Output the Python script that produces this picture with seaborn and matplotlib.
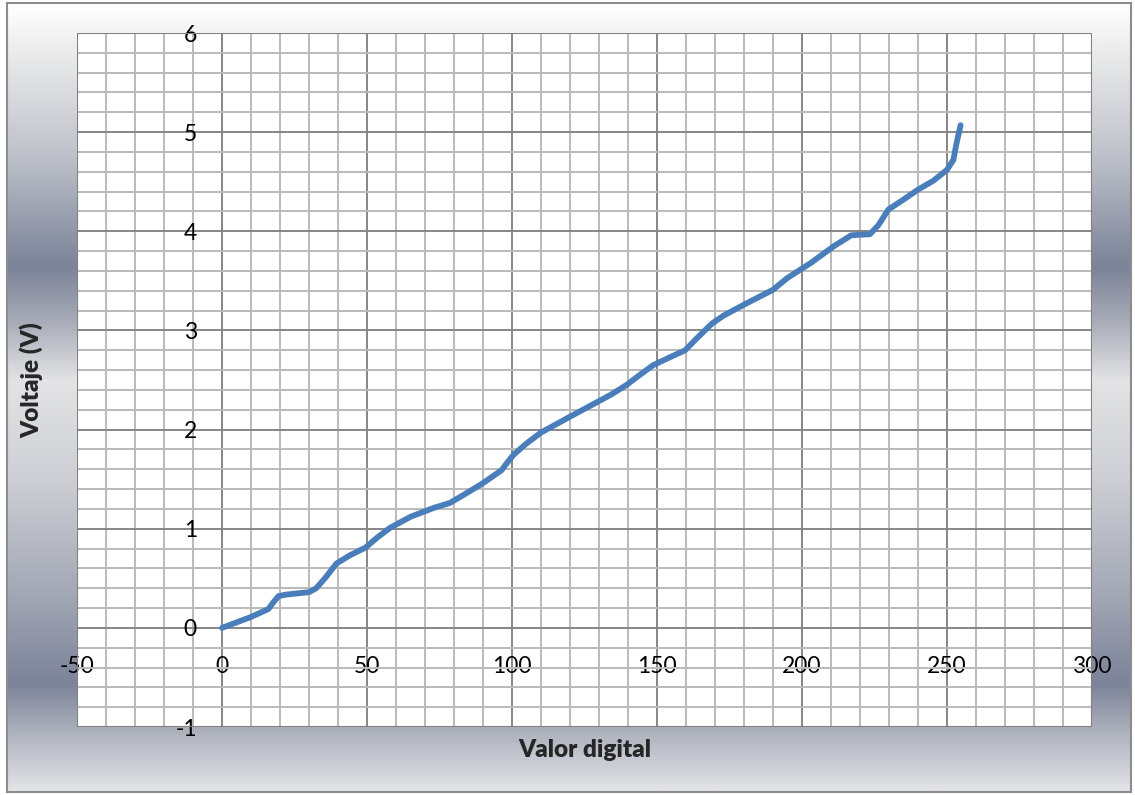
import numpy as np
import pandas as pd
import matplotlib
matplotlib.use("Agg")
import matplotlib.pyplot as plt
import seaborn as sns
from matplotlib.colors import LinearSegmentedColormap
from matplotlib.ticker import MultipleLocator

# Valores
valor_digital = [0, 10, 16, 17.5, 19.5, 22, 30, 32.5, 35.5, 39.5, 44, 49.5, 53.5, 58,
                 65, 73, 78.6, 84.4, 90, 96.4, 98.7, 100.5, 105, 110, 120, 127, 134,
                 139.5, 144, 148.7, 154.5, 159.7, 163.7, 169, 173, 180, 190, 195, 203,
                 211, 217, 223.4, 226.3, 229.8, 235, 240, 245.3, 250, 252.2, 253.3, 254.7]
voltaje = [0, 0.11, 0.19, 0.25, 0.32, 0.335, 0.36, 0.40, 0.50, 0.65, 0.73, 0.81, 0.91, 1.01,
           1.12, 1.21, 1.26, 1.36, 1.46, 1.59, 1.68, 1.745, 1.86, 1.97, 2.13, 2.24, 2.35,
           2.45, 2.55, 2.65, 2.73, 2.80, 2.92, 3.07, 3.15, 3.26, 3.41, 3.53, 3.68,
           3.85, 3.96, 3.97, 4.06, 4.22, 4.32, 4.42, 4.51, 4.62, 4.72, 4.89, 5.07]

df = pd.DataFrame({"Valor digital": valor_digital, "Voltaje (V)": voltaje})

sns.set_style("white")
plt.rcParams["font.family"] = ["Lato", "DejaVu Sans"]
plt.rcParams["axes.unicode_minus"] = False

fig = plt.figure(figsize=(11.35, 7.95), dpi=100)
fig.patch.set_facecolor("white")

# fondo con degradado estilo Excel
bg = fig.add_axes([7/1135, 3/795, 1124/1135, 789/795], zorder=-1)
stops = [(0.0, "#ffffff"), (0.05, "#eeeeee"), (0.19, "#bfc2ca"), (0.333, "#7b8398"),
         (0.40, "#a6aab6"), (0.478, "#e3e3e5"), (0.60, "#cfd0d5"), (0.75, "#a3a8b5"),
         (0.865, "#7c8399"), (0.93, "#b0b4bf"), (1.0, "#e2e3e6")]
cmap = LinearSegmentedColormap.from_list("fondo", stops)
grad = np.linspace(0, 1, 400).reshape(-1, 1)
bg.imshow(grad, aspect="auto", cmap=cmap, extent=[0, 1, 0, 1], origin="upper")
bg.set_xticks([])
bg.set_yticks([])
for s in bg.spines.values():
    s.set_color("#8c8c8c")
    s.set_linewidth(1.5)

ax = fig.add_axes([77/1135, 1 - 727/795, 1015/1135, 694/795])
ax.set_facecolor("white")
sns.lineplot(data=df, x="Valor digital", y="Voltaje (V)", ax=ax, color="#4a7ebb",
             linewidth=4.2, sort=False, solid_capstyle="round", solid_joinstyle="round", zorder=5)

ax.set_xlim(-50, 300)
ax.set_ylim(-1, 6)
ax.xaxis.set_major_locator(MultipleLocator(50))
ax.xaxis.set_minor_locator(MultipleLocator(10))
ax.yaxis.set_major_locator(MultipleLocator(1))
ax.yaxis.set_minor_locator(MultipleLocator(0.2))
ax.grid(which="minor", color="#bababa", linewidth=1.4)
ax.grid(which="major", color="#868686", linewidth=1.4)
ax.set_axisbelow(True)

# los ejes cruzan en el origen, como en Excel
ax.spines["left"].set_position(("data", 0))
ax.spines["bottom"].set_position(("data", 0))
for sp in ["left", "bottom", "right", "top"]:
    ax.spines[sp].set_visible(False)
frame = plt.Rectangle((0, 0), 1, 1, transform=ax.transAxes, fill=False,
                      edgecolor="#808080", linewidth=1.5, zorder=6)
ax.add_patch(frame)

ax.tick_params(axis="both", which="both", length=0, labelsize=16.5, colors="black")
ax.tick_params(axis="y", pad=18)
ax.tick_params(axis="x", pad=20)

ax.set_xlabel("")
ax.set_ylabel("")
fig.text(585/1135, 1 - 750/795, "Valor digital", ha="center", va="center",
         fontsize=17.5, fontweight="heavy")
fig.text(31/1135, 1 - 380/795, "Voltaje (V)", ha="center", va="center",
         fontsize=17.5, fontweight="heavy", rotation=90)

fig.savefig("out.png", dpi=100)
